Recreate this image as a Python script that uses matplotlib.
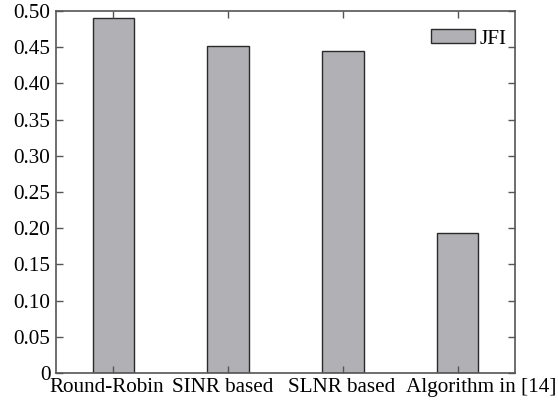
import matplotlib
matplotlib.use("Agg")
import matplotlib.pyplot as plt
from matplotlib.transforms import ScaledTranslation
import numpy as np

categories = ["Round-Robin", "SINR based", "SLNR based", "Algorithm in [14]"]
jfi = [0.490, 0.452, 0.445, 0.193]
yticks = [0, 0.05, 0.10, 0.15, 0.20, 0.25, 0.30, 0.35, 0.40, 0.45, 0.50]
ytick_labels = ["0", "0.05", "0.10", "0.15", "0.20", "0.25", "0.30", "0.35", "0.40", "0.45", "0.50"]

FS = 15.2
plt.rcParams['font.family'] = ['Liberation Serif', 'DejaVu Serif']
fig = plt.figure(figsize=(5.58, 4.03), dpi=100)
ax = fig.add_axes([0.1004, 0.0744, 0.8226, 0.8983])

x = np.arange(1, len(categories) + 1)
ax.bar(x, jfi, width=0.36, color='#b1b1b5', edgecolor='#2a2a2a', linewidth=1.0, label='JFI')

ax.set_xlim(0.5, 4.5)
ax.set_ylim(0, 0.5)
ax.set_xticks(x)
ax.set_xticklabels(categories, fontsize=FS)
ax.set_yticks(yticks)
ax.set_yticklabels(ytick_labels, fontsize=FS)
ax.tick_params(direction='in', top=True, right=True, length=5, width=1.0, color='#555555')
ax.tick_params(axis='y', pad=4)
ax.tick_params(axis='x', pad=3.5)
for s in ax.spines.values():
    s.set_color('#555555')
    s.set_linewidth(1.2)

# horizontal shifts of category labels (pixels), as in the reference layout
label_shifts = [-6.4, -5.0, -1.0, 23.4]
for lab, dx in zip(ax.get_xticklabels(), label_shifts):
    lab.set_transform(lab.get_transform() + ScaledTranslation(dx / 100.0, 0, fig.dpi_scale_trans))

ax.legend(loc='upper right', frameon=False, fontsize=FS, handlelength=2.1, handleheight=0.67,
          handletextpad=0.2, borderaxespad=0.0, borderpad=0.4, bbox_to_anchor=(1.0, 0.9735))

fig.savefig("out.png", dpi=100)
